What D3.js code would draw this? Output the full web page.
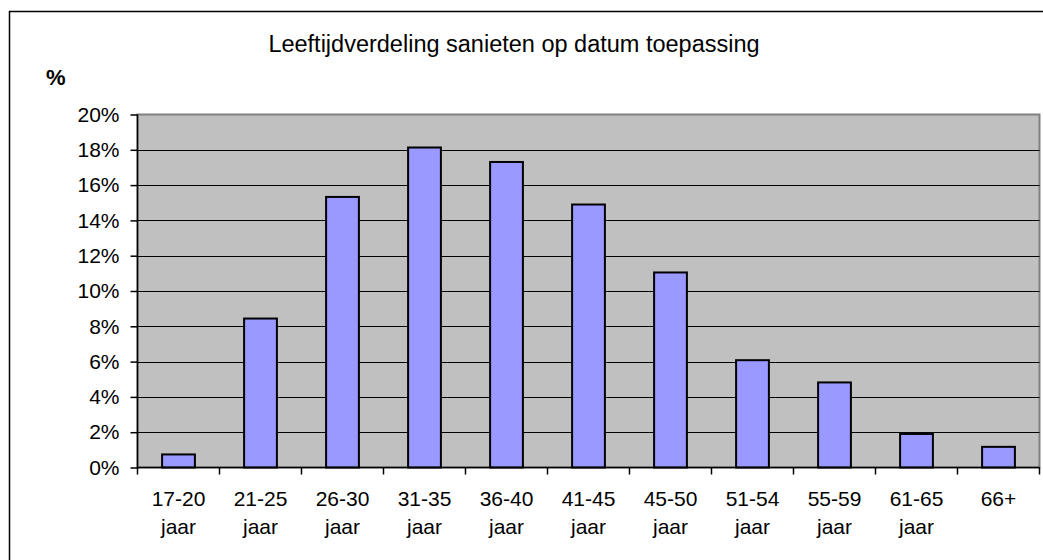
<!DOCTYPE html>
<html>
<head>
<meta charset="utf-8">
<script src="https://cdn.jsdelivr.net/npm/d3@7"></script>
<style>
  html, body { margin: 0; padding: 0; background: #fff; }
  svg { display: block; font-family: "Liberation Sans", Arial, sans-serif; }
</style>
</head>
<body>
<div id="chart"></div>
<script>
  // chart values
  var categories = [ '17-20 jaar', '21-25 jaar', '26-30 jaar', '31-35 jaar', '36-40 jaar',
    '41-45 jaar', '45-50 jaar', '51-54 jaar', '55-59 jaar', '61-65 jaar', '66+' ];
  var shares = [ 0.74, 8.44, 15.33, 18.13, 17.31, 14.9, 11.05, 6.08, 4.82, 1.9, 1.17 ];
  var yTicks = [ 0, 2, 4, 6, 8, 10, 12, 14, 16, 18, 20 ];
  var title = 'Leeftijdverdeling sanieten op datum toepassing';

  var width = 1043,
    height = 560,
    plot = { left: 137.5, top: 114.5, right: 1039.5, bottom: 467.5 };

  var svg = d3.select( '#chart' )
    .append( 'svg' )
    .attr( 'width', width )
    .attr( 'height', height );

  // outer chart border (runs off the page on the right and bottom)
  svg.append( 'rect' )
    .attr( 'x', 9.5 )
    .attr( 'y', 11.5 )
    .attr( 'width', 1060 )
    .attr( 'height', 580 )
    .attr( 'fill', '#fff' )
    .attr( 'stroke', '#000' )
    .attr( 'stroke-width', 1.5 );

  svg.append( 'text' )
    .attr( 'x', 514 )
    .attr( 'y', 52 )
    .attr( 'text-anchor', 'middle' )
    .attr( 'font-size', 23.5 )
    .text( title );

  svg.append( 'text' )
    .attr( 'x', 46 )
    .attr( 'y', 85 )
    .attr( 'font-size', 22 )
    .attr( 'font-weight', 'bold' )
    .text( '%' );

  var x = d3.scaleBand()
    .domain( categories )
    .range( [ plot.left, plot.right ] )
    .paddingInner( 0.6 )
    .paddingOuter( 0.3 );

  var y = d3.scaleLinear()
    .domain( [ 0, 20 ] )
    .range( [ plot.bottom, plot.top ] );

  // plot background
  svg.append( 'rect' )
    .attr( 'x', plot.left )
    .attr( 'y', plot.top )
    .attr( 'width', plot.right - plot.left )
    .attr( 'height', plot.bottom - plot.top )
    .attr( 'fill', '#c0c0c0' )
    .attr( 'stroke', '#808080' )
    .attr( 'stroke-width', 2 );

  // gridlines
  svg.append( 'g' )
    .selectAll( 'line' )
    .data( yTicks.filter( function( d ) { return d > 0 && d < 20; }) )
    .enter().append( 'line' )
    .attr( 'x1', plot.left )
    .attr( 'x2', plot.right )
    .attr( 'y1', function( d ) { return Math.round( y( d ) ) + 0.5; })
    .attr( 'y2', function( d ) { return Math.round( y( d ) ) + 0.5; })
    .attr( 'stroke', '#000' )
    .attr( 'stroke-width', 1 );

  // bars
  svg.append( 'g' )
    .selectAll( 'rect' )
    .data( shares )
    .enter().append( 'rect' )
    .attr( 'x', function( d, i ) { return x( categories[i] ); })
    .attr( 'y', function( d ) { return y( d ); })
    .attr( 'width', x.bandwidth() )
    .attr( 'height', function( d ) { return plot.bottom - y( d ); })
    .attr( 'fill', '#9999ff' )
    .attr( 'stroke', '#000' )
    .attr( 'stroke-width', 2 );

  // y axis
  var yAxis = d3.axisLeft( y )
    .tickValues( yTicks )
    .tickSize( 7 )
    .tickPadding( 11 )
    .tickFormat( function( d ) { return d + '%'; });

  var gy = svg.append( 'g' )
    .attr( 'transform', 'translate(' + plot.left + ',0)' )
    .call( yAxis );

  // x axis: ticks at category boundaries
  var gx = svg.append( 'g' )
    .attr( 'transform', 'translate(0,' + plot.bottom + ')' );

  gx.append( 'line' )
    .attr( 'x1', plot.left )
    .attr( 'x2', plot.right )
    .attr( 'stroke', '#000' )
    .attr( 'stroke-width', 1.5 );

  gx.selectAll( '.tick' )
    .data( d3.range( categories.length + 1 ) )
    .enter().append( 'line' )
    .attr( 'class', 'tick' )
    .attr( 'x1', function( i ) { return plot.left + i * x.step(); })
    .attr( 'x2', function( i ) { return plot.left + i * x.step(); })
    .attr( 'y1', 0 )
    .attr( 'y2', 7 )
    .attr( 'stroke', '#000' )
    .attr( 'stroke-width', 1.5 );

  var labels = gx.selectAll( '.label' )
    .data( categories )
    .enter().append( 'text' )
    .attr( 'class', 'label' )
    .attr( 'text-anchor', 'middle' )
    .attr( 'font-size', 21 )
    .attr( 'fill', '#000' )
    .attr( 'transform', function( d ) {
      return 'translate(' + ( x( d ) + x.bandwidth() / 2 ) + ',0)';
    });

  labels.each( function( d ) {
    var parts = d.split( ' ' ),
      el = d3.select( this );

    parts.forEach( function( p, j ) {
      el.append( 'tspan' )
        .attr( 'x', 0 )
        .attr( 'y', 38 + j * 28 )
        .text( p );
    });
  });

  gy.select( '.domain' ).remove();
  gy.append( 'line' )
    .attr( 'y1', plot.top )
    .attr( 'y2', plot.bottom )
    .attr( 'stroke', '#000' )
    .attr( 'stroke-width', 1.5 );
  gy.selectAll( '.tick line' ).attr( 'stroke', '#000' ).attr( 'stroke-width', 1.5 );
  gy.selectAll( '.tick text' )
    .attr( 'font-size', 21 )
    .attr( 'font-family', '"Liberation Sans", Arial, sans-serif' )
    .attr( 'fill', '#000' );
</script>
</body>
</html>
